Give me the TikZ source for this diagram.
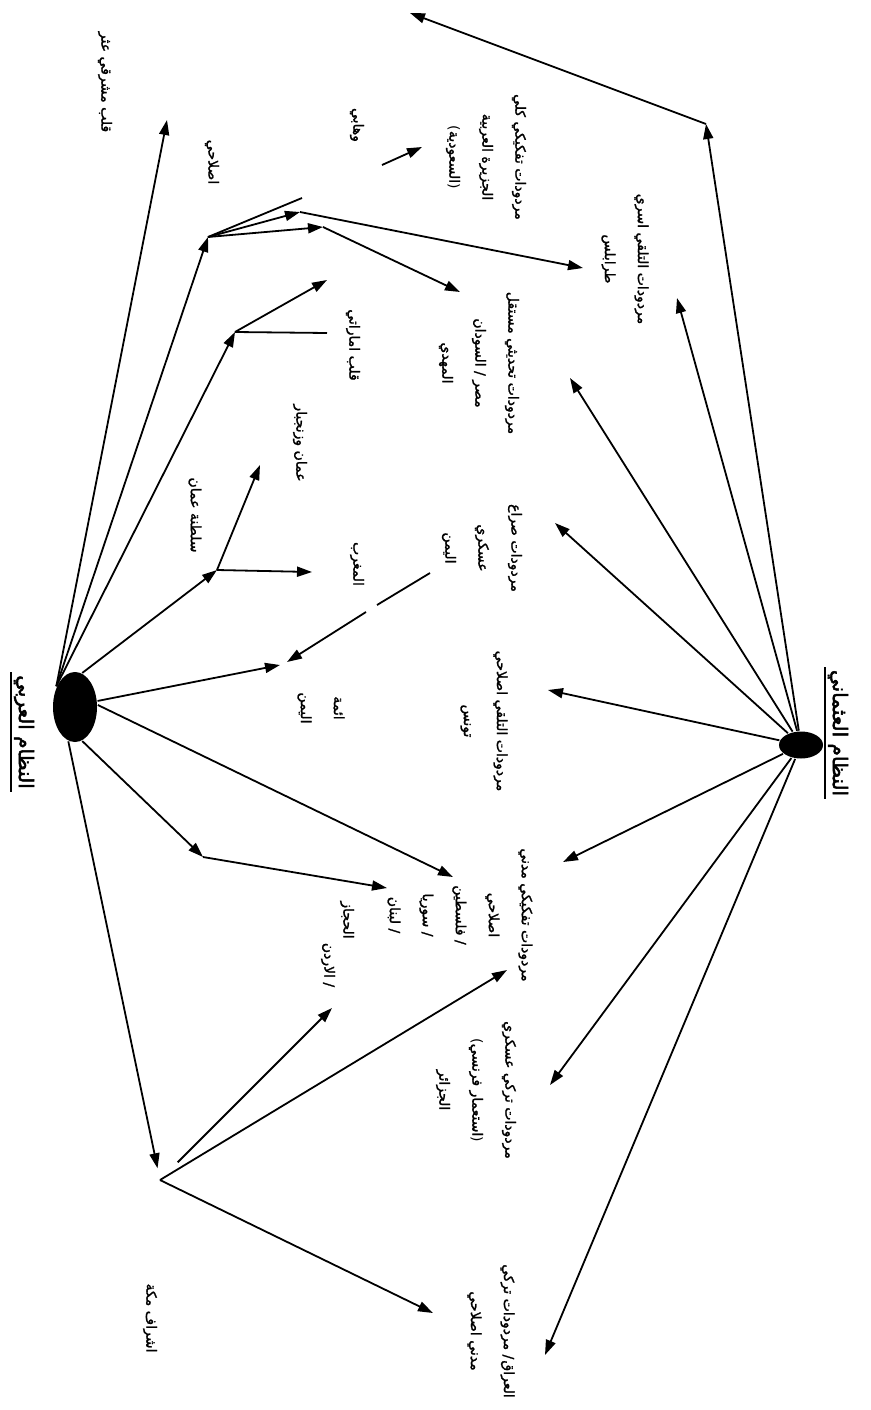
\documentclass[tikz,border=0pt]{standalone}
\usepackage{fontspec}
\usepackage{tikz}
\usetikzlibrary{arrows.meta,shapes.geometric}
\newfontfamily\arabicfont[Script=Arabic,FakeBold=1.5]{DejaVu Sans}
\newfontfamily\arabictitle[Script=Arabic,FakeBold=2.5]{DejaVu Sans}
\newfontfamily\parenfont{DejaVu Sans}
\TeXXeTstate=1
\newcommand{\artext}[1]{\beginR #1\endR}
\newcommand{\inparen}[1]{{\parenfont(}\beginR #1\endR{\parenfont)}}

\begin{document}
\begin{tikzpicture}[x=1pt, y=-1pt, ->, >={Triangle[length=15pt,width=10pt]}, line width=1.8pt]
\useasboundingbox (0,0) rectangle (870,1410);

\tikzstyle{lbl}=[font=\arabicfont\fontsize{14}{33}\selectfont, align=center, rotate=-90, inner sep=1pt]
\tikzstyle{ttl}=[font=\arabictitle\fontsize{20}{24}\selectfont, rotate=-90, inner sep=2pt]
\tikzstyle{hub}=[ellipse, fill=black, draw=none, inner sep=0pt]

% the two systems
\node[hub, minimum width=44pt, minimum height=70pt] (arab) at (75,707) {};
\node[hub, minimum width=44pt, minimum height=27pt] (ottoman) at (801,745) {};

\node[ttl] (tArab) at (24,732) {\artext{النظام العربي}};
\node[ttl] (tOtt) at (838,733) {\artext{النظام العثماني}};
\draw[-, line width=1.2pt] (tArab.south west) -- (tArab.south east);
\draw[-, line width=1.2pt] (tOtt.south west) -- (tOtt.south east);

% labels
\node[lbl] (lMashriq) at (105,82) {\artext{قلب مشرقي عثر}};
\node[lbl] (lIslah) at (212,162) {\artext{اصلاحي}};
\node[lbl] (lWahhabi) at (357,125) {\artext{وهابي}};
\node[lbl] (lSaudi) at (486,157) {\artext{مردودات تفكيكي كلي}\\\artext{الجزيرة العربية}\\\inparen{السعودية}};
\node[lbl] (lTripoli) at (625,259) {\artext{مردودات التلقي اسري}\\\artext{طرابلس}};
\node[lbl] (lEgypt) at (479,363) {\artext{مردودات تحديثي مستقل}\\\artext{مصر / السودان}\\\artext{المهدي}};
\node[lbl] (lEmirate) at (353,345) {\artext{قلب اماراتي}};
\node[lbl] (lZanzibar) at (300,443) {\artext{عمان وزنجبار}};
\node[lbl] (lOman) at (195,515) {\artext{سلطنة عمان}};
\node[lbl] (lMorocco) at (357,564) {\artext{المغرب}};
\node[lbl] (lYemen) at (482,548) {\artext{مردودات صراع}\\\artext{عسكري}\\\artext{اليمن}};
\node[lbl] (lImams) at (321,708) {\artext{ائمة}\\\artext{اليمن}};
\node[lbl] (lTunis) at (484,721) {\artext{مردودات التلقي اصلاحي}\\\artext{تونس}};
\node[lbl] (lLevant) at (460,915) {\artext{مردودات تفكيكي مدني}\\\artext{اصلاحي}\\\artext{/ فلسطين}\\\artext{/ سوريا}\\\artext{/ لبنان}};
\node[lbl] (lHejaz) at (347,920) {\artext{الحجاز}};
\node[lbl] (lJordan) at (328,965) {\artext{/ الاردن}};
\node[lbl] (lAlgeria) at (476,1090) {\artext{مردودات تركي عسكري}\\\inparen{استعمار فرنسي}\\\artext{الجزائر}};
\node[lbl] (lIraq) at (491,1331) {\artext{العراق\kern1pt/ مردودات تركي}\\\artext{مدني اصلاحي}};
\node[lbl] (lMecca) at (150,1318) {\artext{اشراف مكة}};

% junctions and arrow ends
\coordinate (tMashriq) at (167,120);
\coordinate (islah) at (208,237);
\coordinate (islahEnd) at (302,198);
\coordinate (islahP1) at (300,212);
\coordinate (islahP2) at (323,227);
\coordinate (tTripoli) at (583,268);
\coordinate (tEgypt) at (460,292);
\coordinate (wahA) at (382,165);
\coordinate (wahB) at (422,147);
\coordinate (emirate) at (235,332);
\coordinate (emirateA) at (327,280);
\coordinate (emirateB) at (327,333);
\coordinate (oman) at (217,570);
\coordinate (omanA) at (260,465);
\coordinate (omanB) at (312,572);
\coordinate (ya) at (430,573);
\coordinate (yb) at (377,605);
\coordinate (yc) at (366,612);
\coordinate (tImamA) at (280,665);
\coordinate (tImamB) at (287,662);
\coordinate (tCivil) at (453,877);
\coordinate (levant) at (203,857);
\coordinate (tLevant) at (387,888);
\coordinate (mecca) at (160,1180);
\coordinate (meccaA) at (332,1008);
\coordinate (meccaB) at (507,970);
\coordinate (meccaC) at (433,1313);

\coordinate (otJ) at (706,124);
\coordinate (otTop) at (410,13);
\coordinate (otTripoli) at (677,298);
\coordinate (otEgypt) at (570,378);
\coordinate (otYemen) at (555,523);
\coordinate (otTunis) at (548,690);
\coordinate (otCivil) at (563,862);
\coordinate (otAlgeria) at (550,1085);
\coordinate (otIraq) at (545,1355);

% arab system
\draw (arab.132) -- (tMashriq);
\draw (arab.132) -- (islah);
\draw (arab.132) -- (emirate);
\draw (arab.78) -- (oman);
\draw (arab.15) -- (tImamA);
\draw (arab.5) -- (tCivil);
\draw (arab.-78) -- (levant);
\draw[shorten >=12pt] (arab.-101) -- (mecca);

\draw[-] (islah) -- (islahEnd);
\draw (islah) -- (islahP1);
\draw (islahP1) -- (tTripoli);
\draw (islah) -- (islahP2);
\draw (islahP2) -- (tEgypt);
\draw (wahA) -- (wahB);

\draw (emirate) -- (emirateA);
\draw[-] (emirate) -- (emirateB);

\draw (oman) -- (omanA);
\draw (oman) -- (omanB);

\draw[-] (ya) -- (yb);
\draw (yc) -- (tImamB);

\draw (levant) -- (tLevant);

\draw[shorten <=25pt] (mecca) -- (meccaA);
\draw (mecca) -- (meccaB);
\draw (mecca) -- (meccaC);

% ottoman system
\draw (ottoman) -- (otJ);
\draw (otJ) -- (otTop);
\draw (ottoman) -- (otTripoli);
\draw (ottoman) -- (otEgypt);
\draw (ottoman) -- (otYemen);
\draw (ottoman) -- (otTunis);
\draw (ottoman) -- (otCivil);
\draw (ottoman) -- (otAlgeria);
\draw (ottoman) -- (otIraq);

\end{tikzpicture}
\end{document}
